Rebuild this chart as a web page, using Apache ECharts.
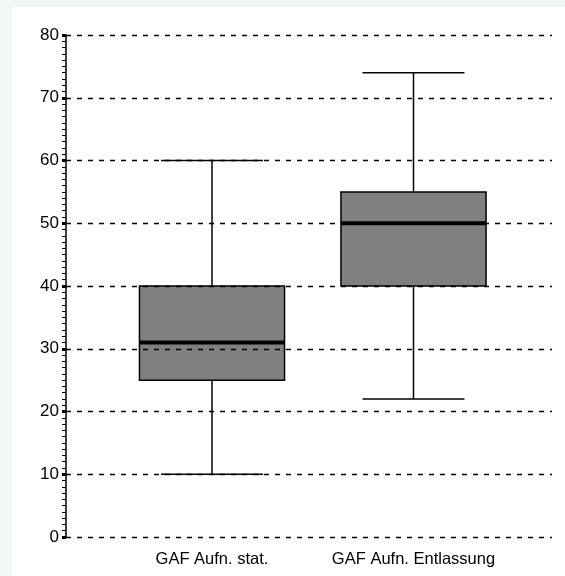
<!DOCTYPE html>
<html>
<head>
<meta charset="utf-8">
<script src="https://cdn.jsdelivr.net/npm/echarts@6/dist/echarts.min.js"></script>
<style>html,body{margin:0;padding:0;background:#f2f6f5;}#c{width:565px;height:576px;}</style>
</head>
<body>
<div id="c"></div>
<script>
var categories = ['GAF Aufn. stat.', 'GAF Aufn. Entlassung'];
var whiskerLow = [10, 22];
var q1 = [25, 40];
var median = [31, 50];
var q3 = [40, 55];
var whiskerHigh = [60, 74];
var yTicks = [0, 10, 20, 30, 40, 50, 60, 70, 80];

var data = categories.map(function (c, i) {
  return [i, whiskerLow[i], q1[i], median[i], q3[i], whiskerHigh[i]];
});

var font = "'Liberation Sans', Arial, sans-serif";
var chart = echarts.init(document.getElementById('c'));
chart.setOption({
  backgroundColor: '#f2f6f5',
  animation: false,
  graphic: [{
    type: 'rect', z: -10, silent: true,
    shape: { x: 12, y: 7, width: 553, height: 569 },
    style: { fill: '#ffffff' }
  }],
  grid: [
    { left: 66, right: 13, top: 35, bottom: 39 },
    { left: 111.25, width: 403, top: 35, bottom: 39 }
  ],
  xAxis: [
    { type: 'value', gridIndex: 0, show: false, min: 0, max: 1 },
    {
      type: 'category', gridIndex: 1, data: categories,
      axisLine: { show: false }, axisTick: { show: false },
      axisLabel: { color: '#000', fontSize: 16.5, fontFamily: font, margin: 14, interval: 0 }
    }
  ],
  yAxis: [
    {
      type: 'value', gridIndex: 0, min: yTicks[0], max: yTicks[yTicks.length - 1], interval: 10, z: 5,
      axisLine: { show: true, lineStyle: { color: '#000', width: 1.5 } },
      axisTick: { show: true, length: 4, lineStyle: { color: '#000', width: 3 } },
      minorTick: { show: true, splitNumber: 10, length: 4, lineStyle: { color: '#000', width: 1 } },
      axisLabel: { color: '#000', fontSize: 17, fontFamily: font, margin: 7 },
      splitLine: { show: true, lineStyle: { color: '#000', width: 1.3, type: [5, 6] } }
    },
    { type: 'value', gridIndex: 1, show: false, min: 0, max: 80 }
  ],
  series: [{
    type: 'custom',
    xAxisIndex: 1, yAxisIndex: 1, z: 2,
    data: data,
    renderItem: function (params, api) {
      var x = api.value(0);
      var band = api.size([1, 0])[0];
      var bw = band * 0.72 / 2;
      var cw = band * 0.506 / 2;
      var pLow = api.coord([x, api.value(1)]);
      var pQ1 = api.coord([x, api.value(2)]);
      var pMed = api.coord([x, api.value(3)]);
      var pQ3 = api.coord([x, api.value(4)]);
      var pHigh = api.coord([x, api.value(5)]);
      var cx = pMed[0];
      var ls = { stroke: '#000', lineWidth: 1.5 };
      return {
        type: 'group',
        children: [
          { type: 'line', shape: { x1: cx, y1: pHigh[1], x2: cx, y2: pQ3[1] }, style: ls },
          { type: 'line', shape: { x1: cx, y1: pQ1[1], x2: cx, y2: pLow[1] }, style: ls },
          { type: 'line', shape: { x1: cx - cw, y1: pHigh[1], x2: cx + cw, y2: pHigh[1] }, style: ls },
          { type: 'line', shape: { x1: cx - cw, y1: pLow[1], x2: cx + cw, y2: pLow[1] }, style: ls },
          { type: 'rect', shape: { x: cx - bw, y: pQ3[1], width: 2 * bw, height: pQ1[1] - pQ3[1] },
            style: { fill: '#808080', stroke: '#000', lineWidth: 1.5 } },
          { type: 'line', z2: 10, shape: { x1: cx - bw, y1: pMed[1], x2: cx + bw, y2: pMed[1] },
            style: { stroke: '#000', lineWidth: 4 } }
        ]
      };
    }
  }]
});
</script>
</body>
</html>
